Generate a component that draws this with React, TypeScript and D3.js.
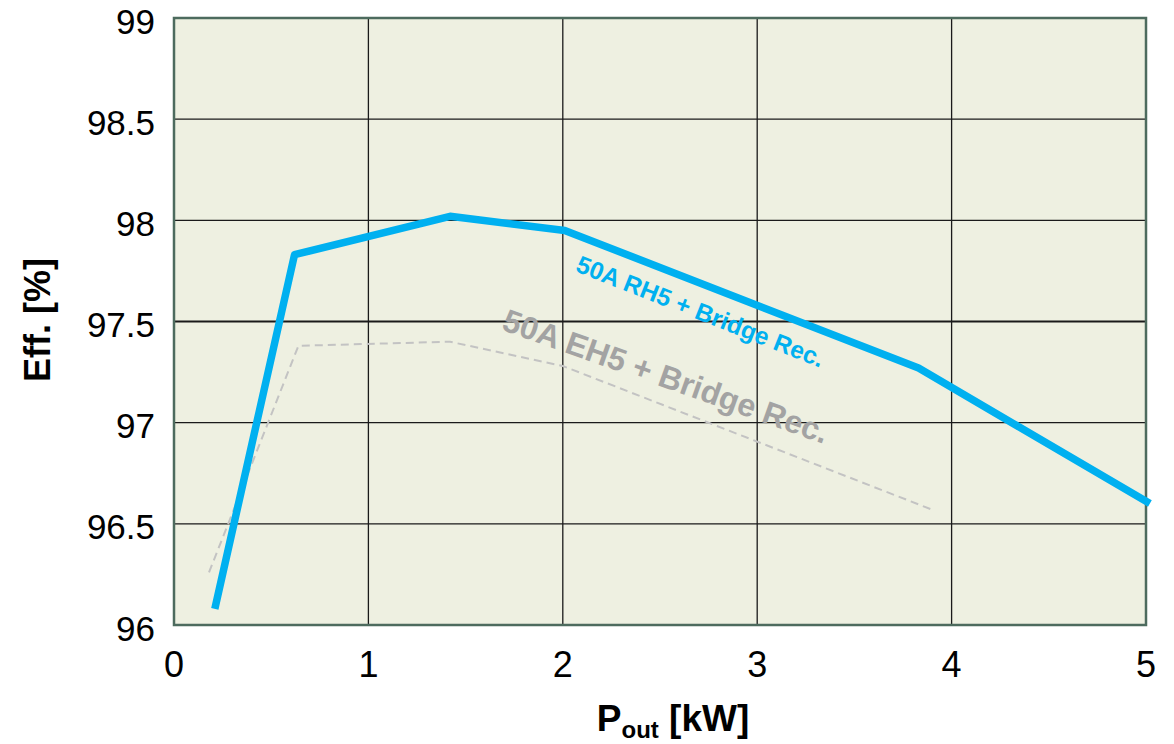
import React, { useEffect, useRef } from 'react';
import * as d3 from 'd3';

const xTicks = [0, 1, 2, 3, 4, 5];
const yTicks = [96, 96.5, 97, 97.5, 98, 98.5, 99];

// 50A RH5 + Bridge Rec.
const rhPout = [0.21, 0.62, 1.42, 2.01, 3.83, 5.02];
const rhEff = [96.08, 97.83, 98.02, 97.95, 97.27, 96.6];

// 50A EH5 + Bridge Rec.
const ehPout = [0.18, 0.64, 1.42, 2.0, 3.9];
const ehEff = [96.26, 97.38, 97.4, 97.28, 96.57];

const App = () => {
  const svgRef = useRef<SVGSVGElement>(null);
  const width = 1174;
  const height = 744;

  useEffect(() => {
    const svg = d3.select(svgRef.current);
    svg.selectAll('*').remove();

    const margin = { top: 18, right: 28, bottom: 119, left: 174 };
    const x = d3.scaleLinear().domain([0, 5]).range([margin.left, width - margin.right]);
    const y = d3.scaleLinear().domain([96, 99]).range([height - margin.bottom, margin.top]);
    const font = 'Liberation Sans, Arial, sans-serif';

    // plot background
    svg
      .append('rect')
      .attr('x', x(0))
      .attr('y', y(99))
      .attr('width', x(5) - x(0))
      .attr('height', y(96) - y(99))
      .attr('fill', '#eef0e1');

    // grid
    svg
      .append('g')
      .selectAll('line')
      .data(xTicks.slice(1, -1))
      .enter()
      .append('line')
      .attr('x1', d => x(d))
      .attr('x2', d => x(d))
      .attr('y1', y(99))
      .attr('y2', y(96))
      .attr('stroke', '#1a1a1a')
      .attr('stroke-width', 1.3);

    svg
      .append('g')
      .selectAll('line')
      .data(yTicks.slice(1, -1))
      .enter()
      .append('line')
      .attr('x1', x(0))
      .attr('x2', x(5))
      .attr('y1', d => y(d))
      .attr('y2', d => y(d))
      .attr('stroke', '#1a1a1a')
      .attr('stroke-width', d => (d === 97.5 ? 2.2 : 1.3));

    // frame
    svg
      .append('rect')
      .attr('x', x(0))
      .attr('y', y(99))
      .attr('width', x(5) - x(0))
      .attr('height', y(96) - y(99))
      .attr('fill', 'none')
      .attr('stroke', '#4d6b5e')
      .attr('stroke-width', 2.5);

    const ehData = ehPout.map((p, i) => [p, ehEff[i]] as [number, number]);
    const rhData = rhPout.map((p, i) => [p, rhEff[i]] as [number, number]);
    const path = d3
      .line<[number, number]>()
      .x(d => x(d[0]))
      .y(d => y(d[1]));

    svg
      .append('path')
      .datum(ehData)
      .attr('d', path)
      .attr('fill', 'none')
      .attr('stroke', '#c3c3c3')
      .attr('stroke-width', 2)
      .attr('stroke-dasharray', '8,5');

    svg
      .append('path')
      .datum(rhData)
      .attr('d', path)
      .attr('fill', 'none')
      .attr('stroke', '#00b0f0')
      .attr('stroke-width', 7.5)
      .attr('stroke-linejoin', 'round');

    // series labels
    svg
      .append('text')
      .attr('transform', `translate(${x(2.06)},${y(97.75)}) rotate(21.5)`)
      .attr('font-family', font)
      .attr('font-weight', 'bold')
      .attr('font-size', 24.5)
      .attr('fill', '#00b0f0')
      .text('50A RH5 + Bridge Rec.');

    svg
      .append('text')
      .attr('transform', `translate(${x(1.68)},${y(97.46)}) rotate(19.5)`)
      .attr('font-family', font)
      .attr('font-weight', 'bold')
      .attr('font-size', 32)
      .attr('fill', '#a3a3a3')
      .text('50A EH5 + Bridge Rec.');

    // tick labels
    svg
      .append('g')
      .selectAll('text')
      .data(yTicks)
      .enter()
      .append('text')
      .attr('x', 155)
      .attr('y', d => y(d) + 15.5)
      .attr('text-anchor', 'end')
      .attr('font-family', font)
      .attr('font-size', 35)
      .attr('fill', '#000')
      .text(d => String(d));

    svg
      .append('g')
      .selectAll('text')
      .data(xTicks)
      .enter()
      .append('text')
      .attr('x', d => x(d))
      .attr('y', 677)
      .attr('text-anchor', 'middle')
      .attr('font-family', font)
      .attr('font-size', 36)
      .attr('fill', '#000')
      .text(d => String(d));

    // axis titles
    const xt = svg
      .append('text')
      .attr('x', x(2.5) + 13)
      .attr('y', 731)
      .attr('text-anchor', 'middle')
      .attr('font-family', font)
      .attr('font-weight', 'bold')
      .attr('font-size', 37)
      .attr('fill', '#000');
    xt.append('tspan').text('P');
    xt.append('tspan').attr('font-size', 24).attr('dy', 7).text('out');
    xt.append('tspan').attr('dy', -7).text(' [kW]');

    svg
      .append('text')
      .attr('transform', `translate(50,320) rotate(-90)`)
      .attr('text-anchor', 'middle')
      .attr('font-family', font)
      .attr('font-weight', 'bold')
      .attr('font-size', 36)
      .attr('fill', '#000')
      .text('Eff. [%]');
  }, []);

  return (
    <svg
      ref={svgRef}
      width={width}
      height={height}
      style={{ position: 'absolute', left: 0, top: 0, background: '#fff' }}
    ></svg>
  );
};

export default App;
